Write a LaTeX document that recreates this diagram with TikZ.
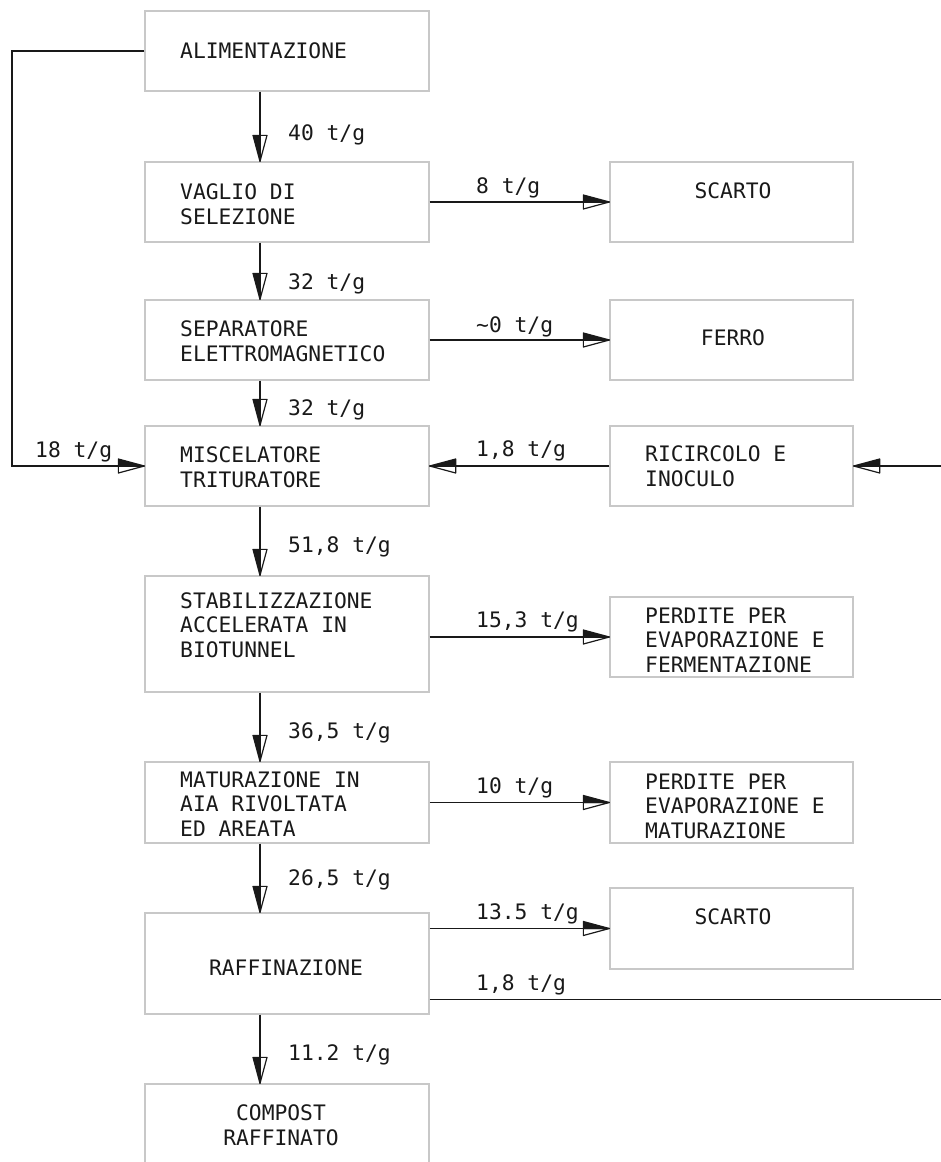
\documentclass[tikz,border=0pt]{standalone}
\usepackage{fontspec}
\usepackage{tikz}
\usetikzlibrary{arrows.meta}

\newfontfamily\cadfont{DejaVu Sans Mono}
\definecolor{boxgray}{RGB}{200,200,200}
\definecolor{inkgray}{RGB}{25,25,25}

% half filled, half open arrow head as in the plant drawing
\pgfdeclarearrow{
  name = CAD,
  parameters = {\the\pgfarrowlength,\the\pgfarrowwidth},
  setup code = {
    \pgfarrowssettipend{0pt}
    \pgfarrowssetlineend{-1pt}
    \pgfarrowssetbackend{-\pgfarrowlength}
    \pgfarrowsupperhullpoint{0pt}{0pt}
    \pgfarrowsupperhullpoint{-\pgfarrowlength}{.5\pgfarrowwidth}
    \pgfarrowssavethe\pgfarrowlength
    \pgfarrowssavethe\pgfarrowwidth
  },
  drawing code = {
    \pgfsetdash{}{0pt}
    \pgfsetroundjoin
    \pgfpathmoveto{\pgfqpoint{0pt}{0pt}}
    \pgfpathlineto{\pgfqpoint{-\pgfarrowlength}{.5\pgfarrowwidth}}
    \pgfpathlineto{\pgfqpoint{-\pgfarrowlength}{0pt}}
    \pgfpathclose
    \pgfusepathqfillstroke
    \pgfpathmoveto{\pgfqpoint{0pt}{0pt}}
    \pgfpathlineto{\pgfqpoint{-\pgfarrowlength}{-.5\pgfarrowwidth}}
    \pgfpathlineto{\pgfqpoint{-\pgfarrowlength}{0pt}}
    \pgfpathclose
    \pgfusepathqstroke
  },
  defaults = {length = 26pt, width = 14pt}
}

\begin{document}
\begin{tikzpicture}[x=1pt,y=-1pt,
    blockL/.style={draw=boxgray, line width=1.3pt, minimum width=284pt, minimum height=80pt, inner sep=0pt},
    blockR/.style={blockL, minimum width=243pt},
    txt/.style={font=\cadfont\fontsize{21.3pt}{24.5pt}\selectfont, text=inkgray, inner sep=0pt, align=left, anchor=base west},
    txtc/.style={txt, align=center, anchor=base},
    flow/.style={draw=inkgray, line width=1.2pt},
    toR/.style={flow, -{CAD}},
    toL/.style={flow, -{CAD[swap]}}]
  \useasboundingbox (0,0) rectangle (940,1162);

  % Draw the boxes of the main line
  \node[blockL] (alim) at (287,51) {};
  \node[blockL] (vaglio) at (287,202) {};
  \node[blockL] (separ) at (287,340) {};
  \node[blockL] (misc) at (287,466) {};
  \node[blockL, minimum height=116pt] (stab) at (287,634) {};
  \node[blockL, minimum height=81pt] (matur) at (287,802.5) {};
  \node[blockL, minimum height=101pt] (raff) at (287,963.5) {};
  \node[blockL, minimum height=100pt] (compost) at (287,1134) {};

  % Draw the boxes on the right
  \node[blockR] (scarto1) at (731.5,202) {};
  \node[blockR] (ferro) at (731.5,340) {};
  \node[blockR] (ricirc) at (731.5,466) {};
  \node[blockR] (perd1) at (731.5,637) {};
  \node[blockR, minimum height=81pt] (perd2) at (731.5,802.5) {};
  \node[blockR, minimum height=81pt] (scarto2) at (731.5,928.5) {};

  % Write the box texts (base = last line)
  \node[txt] (alim-t) at (180,58) {ALIMENTAZIONE};
  \node[txt] (vaglio-t) at (180,224) {VAGLIO DI\\SELEZIONE};
  \node[txt] (separ-t) at (180,361) {SEPARATORE\\ELETTROMAGNETICO};
  \node[txt] (misc-t) at (180,487) {MISCELATORE\\TRITURATORE};
  \node[txt] (stab-t) at (180,657) {STABILIZZAZIONE\\ACCELERATA IN\\BIOTUNNEL};
  \node[txt] (matur-t) at (180,836) {MATURAZIONE IN\\AIA RIVOLTATA\\ED AREATA};
  \node[txtc] (raff-t) at (286,975) {RAFFINAZIONE};
  \node[txtc] (compost-t) at (281,1145) {COMPOST\\RAFFINATO};
  \node[txtc] (scarto1-t) at (733,198) {SCARTO};
  \node[txtc] (ferro-t) at (733,345) {FERRO};
  \node[txt] (ricirc-t) at (645,486) {RICIRCOLO E\\INOCULO};
  \node[txt] (perd1-t) at (645,672) {PERDITE PER\\EVAPORAZIONE E\\FERMENTAZIONE};
  \node[txt] (perd2-t) at (645,838) {PERDITE PER\\EVAPORAZIONE E\\MATURAZIONE};
  \node[txtc] (scarto2-t) at (733,924) {SCARTO};

  % Draw the main flow downwards
  \foreach \a/\b in {alim/vaglio, vaglio/separ, separ/misc, misc/stab, stab/matur, matur/raff, raff/compost}
    \draw[toL] ([xshift=-27pt]\a.south) -- ([xshift=-27pt]\b.north);

  % Draw the side flows
  \draw[toR] (vaglio.east) -- (scarto1.west);
  \draw[toR] (separ.east) -- (ferro.west);
  \draw[toR] (stab.east |- perd1.west) -- (perd1.west);
  \draw[toR] (matur.east) -- (perd2.west);
  \draw[toR] (raff.east |- scarto2.west) -- (scarto2.west);
  \draw[toL] (ricirc.west) -- (misc.east);

  % Draw the by-pass and the recirculation
  \coordinate (feed) at (12,466);
  \coordinate (ret) at (946,466);
  \draw[toR] (alim.west) -| (feed) -- (misc.west);
  \draw[toL] ([yshift=15pt]raff.south east) -| (ret) -- (ricirc.east);

  % Write the flow rates
  \foreach \y/\val in {140/40, 289/32, 415/32, 552/{51,8}, 738/{36,5}, 885/{26,5}, 1060/11.2}
    \node[txt] (fv\y) at (288,\y) {\val\ t/g};
  \foreach \y/\val in {193/8, 332/\textasciitilde0, 456/{1,8}, 627/{15,3}, 793/10, 919/13.5, 990/{1,8}}
    \node[txt] (fh\y) at (476,\y) {\val\ t/g};
  \node[txt] (ffeed) at (35,457) {18 t/g};
\end{tikzpicture}
\end{document}
